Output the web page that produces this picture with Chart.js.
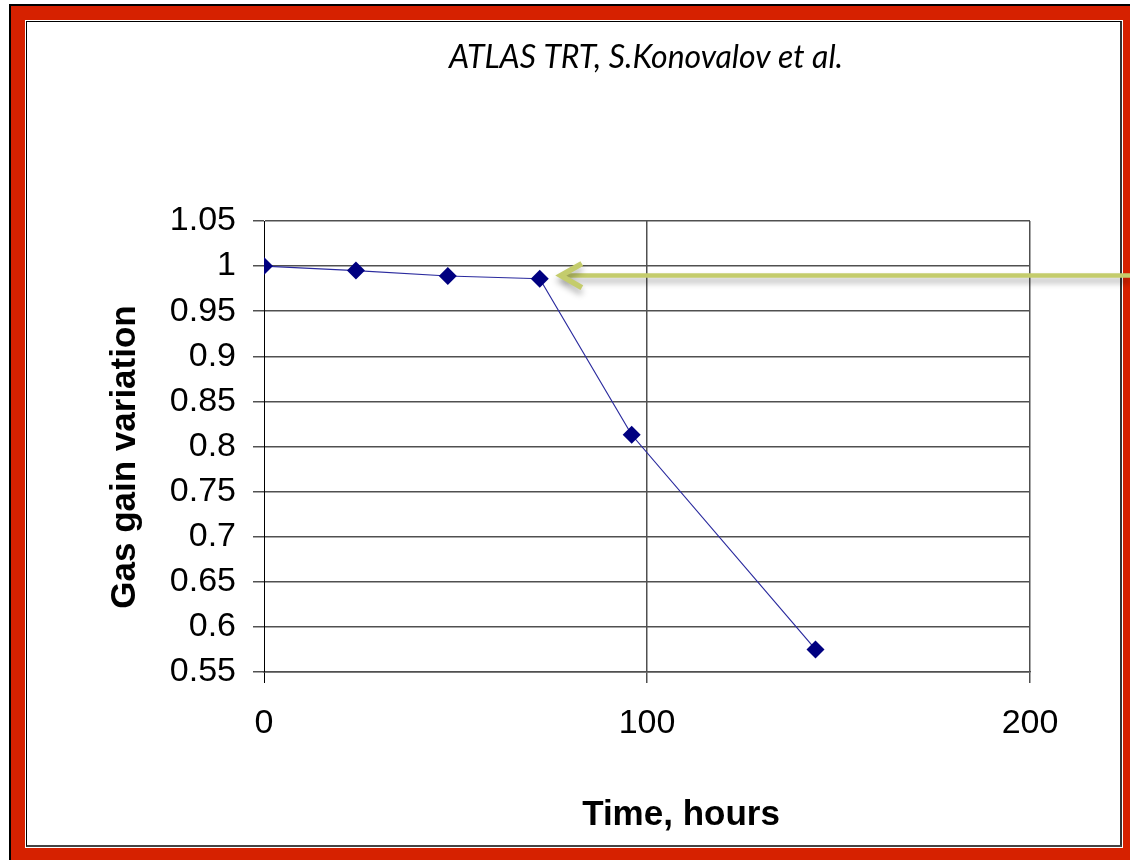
<!DOCTYPE html>
<html lang="en">
<head>
<meta charset="UTF-8">
<title>Gas gain variation</title>
<script src="https://cdn.jsdelivr.net/npm/chart.js"></script>
<style>
    html, body { margin: 0; padding: 0; background: #fff; }
    body { width: 1130px; height: 860px; position: relative; overflow: hidden; }
    .frame {
        position: absolute; left: 9px; top: 4px; width: 1200px; height: 900px;
        background: #d62100; border-left: 2px solid #000; border-top: 2px solid #000;
    }
    .sheet {
        position: absolute; left: 26px; top: 21px; width: 1093px; height: 823px;
        background: #fff;
        border-left: 1px solid #000; border-top: 1px solid #000;
        border-right: 2px solid #333; border-bottom: 2px solid #444;
        box-shadow: 0 0 0 1px #fff;
    }
    #gainChart { position: absolute; left: 0; top: 0; }
</style>
</head>
<body>
<div class="frame"></div>
<div class="sheet"></div>
<canvas id="gainChart" width="1130" height="860"></canvas>
<script>
    // measured gas gain vs. irradiation time
    const hours = [0, 24, 48, 72, 96, 144];
    const gainVariation = [1.0, 0.995, 0.989, 0.986, 0.813, 0.575];

    const xTicks = [0, 100, 200];
    const yTicks = [0.55, 0.6, 0.65, 0.7, 0.75, 0.8, 0.85, 0.9, 0.95, 1.0, 1.05];

    const titleText = 'ATLAS TRT, S.Konovalov et al.';
    const xTitle = 'Time, hours';
    const yTitle = 'Gas gain variation';

    // where the green pointer ends (data units), just right of the 72 h sample
    const arrowTip = { x: 77.5, y: 0.9895 };

    const labelFont = 'Liberation Sans, Arial, sans-serif';
    const gridGrey = '#505050';

    const captions = {
        id: 'captions',
        afterDraw(chart) {
            const ctx = chart.ctx;
            ctx.save();
            ctx.fillStyle = '#000';
            ctx.textAlign = 'center';
            ctx.textBaseline = 'alphabetic';

            ctx.font = 'italic 32px Lato, sans-serif';
            ctx.fillText(titleText, 646, 68);

            ctx.font = 'bold 35px ' + labelFont;
            ctx.fillText(xTitle, 681, 825);

            ctx.translate(135, 457);
            ctx.rotate(-Math.PI / 2);
            ctx.fillText(yTitle, 0, 0);
            ctx.restore();
        }
    };

    const pointerArrow = {
        id: 'pointerArrow',
        afterDraw(chart) {
            const { ctx, scales: { x, y } } = chart;
            const tx = x.getPixelForValue(arrowTip.x);
            const ty = y.getPixelForValue(arrowTip.y);
            ctx.save();
            ctx.strokeStyle = '#c4cc6c';
            ctx.lineCap = 'butt';
            ctx.lineJoin = 'miter';
            ctx.shadowColor = 'rgba(0, 0, 0, 0.3)';
            ctx.shadowBlur = 6;
            ctx.shadowOffsetY = 5;

            ctx.lineWidth = 4.5;
            ctx.beginPath();
            ctx.moveTo(chart.width, ty);
            ctx.lineTo(tx + 3, ty);
            ctx.stroke();

            ctx.lineWidth = 5.5;
            ctx.beginPath();
            ctx.moveTo(tx + 21, ty - 12);
            ctx.lineTo(tx, ty);
            ctx.lineTo(tx + 21, ty + 12);
            ctx.stroke();
            ctx.restore();
        }
    };

    new Chart(document.getElementById('gainChart'), {
        type: 'line',
        data: {
            datasets: [{
                data: hours.map((h, i) => ({ x: h, y: gainVariation[i] })),
                borderColor: '#2a2a9e',
                borderWidth: 1.2,
                tension: 0,
                pointStyle: 'rectRot',
                pointRadius: 9,
                pointBackgroundColor: '#000080',
                pointBorderColor: '#000080',
                pointBorderWidth: 0
            }]
        },
        options: {
            responsive: false,
            animation: false,
            layout: { padding: { left: 30, right: 100, top: 221, bottom: 58 } },
            plugins: {
                legend: { display: false },
                tooltip: { enabled: false },
                title: { display: false }
            },
            scales: {
                x: {
                    type: 'linear',
                    min: 0,
                    max: 200,
                    afterBuildTicks: s => { s.ticks = xTicks.map(v => ({ value: v })); },
                    afterFit: s => { s.height = 130; },
                    ticks: {
                        color: '#000',
                        padding: 20,
                        maxRotation: 0,
                        font: { family: labelFont, size: 34 }
                    },
                    grid: {
                        color: c => (c.tick && c.tick.value === 0 ? '#000' : gridGrey),
                        lineWidth: c => (c.tick && c.tick.value === 0 ? 1 : 1.5),
                        tickLength: 11
                    },
                    border: { display: true, color: gridGrey, width: 1.5 }
                },
                y: {
                    min: 0.55,
                    max: 1.05,
                    afterBuildTicks: s => { s.ticks = yTicks.map(v => ({ value: v })); },
                    afterFit: s => { s.width = 234; },
                    ticks: {
                        color: '#000',
                        padding: 17,
                        font: { family: labelFont, size: 34 },
                        callback: v => String(+v.toFixed(2))
                    },
                    grid: { color: gridGrey, lineWidth: 1.5, tickLength: 11 },
                    border: { display: true, color: '#000', width: 1 }
                }
            }
        },
        plugins: [captions, pointerArrow]
    });
</script>
</body>
</html>
